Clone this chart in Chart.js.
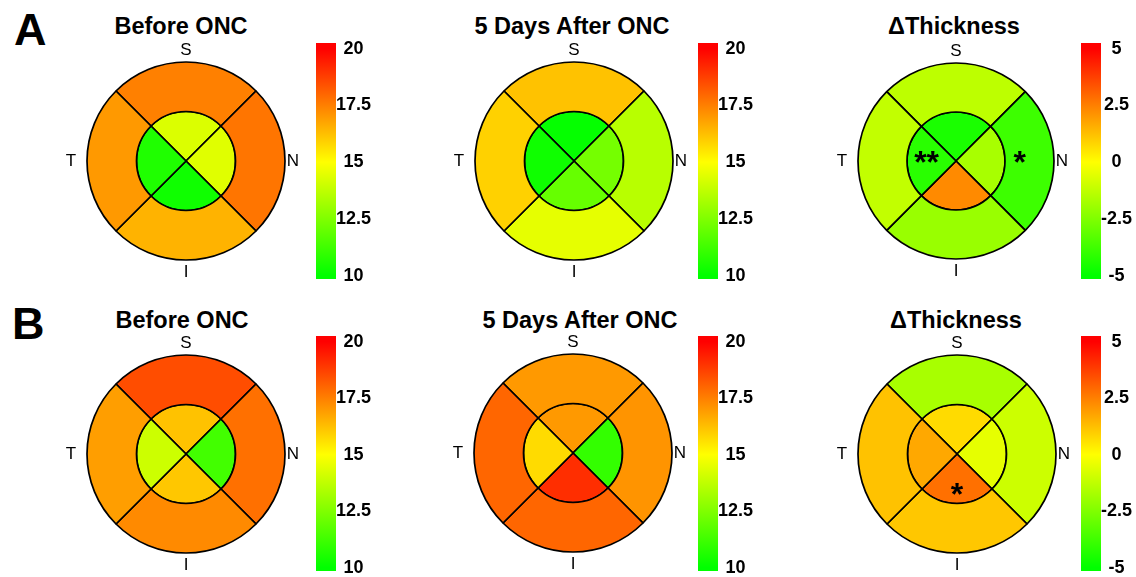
<!DOCTYPE html>
<html>
<head>
<meta charset="utf-8">
<script src="https://cdn.jsdelivr.net/npm/chart.js@4"></script>
<style>
  body { margin: 0; background: #fff; width: 1136px; height: 577px; position: relative; overflow: hidden;
         font-family: "Liberation Sans", Arial, sans-serif; }
  canvas { position: absolute; }
  .title { position: absolute; font-weight: bold; font-size: 23.5px; line-height: 1; white-space: nowrap;
           transform: translateX(-50%); color: #000; }
  .letter { position: absolute; font-weight: bold; font-size: 45px; line-height: 1; color: #000; }
</style>
</head>
<body>
<div class="letter" style="left:14px;top:7px">A</div>
<div class="letter" style="left:12px;top:301px">B</div>

<script>
// sector order going clockwise from the top
const sectors = ['S', 'N', 'I', 'T'];
const sectorSpan = [1, 1, 1, 1];

const thickTicks = [10, 12.5, 15, 17.5, 20];
const thickTickLabels = ['10', '12.5', '15', '17.5', '20'];
const deltaTicks = [-5, -2.5, 0, 2.5, 5];
const deltaTickLabels = ['-5', '-2.5', '0', '2.5', '5'];

// A
const beforeA_outer = [17.5, 17.7, 16.5, 17.0];
const beforeA_inner = [14.3, 14.4, 10.3, 10.6];
const afterA_outer = [16.2, 13.6, 14.5, 15.9];
const afterA_inner = [10.1, 12.3, 12.0, 10.3];
const deltaA_outer = [-1.3, -3.8, -2.0, -1.2];
const deltaA_inner = [-4.5, -1.7, 2.3, -4.2];

// B
const beforeB_outer = [18.5, 17.8, 17.3, 16.9];
const beforeB_inner = [16.2, 11.3, 16.1, 14.0];
const afterB_outer = [17.0, 17.1, 18.0, 18.0];
const afterB_inner = [17.0, 11.0, 19.1, 15.7];
const deltaB_outer = [-1.7, -1.0, 1.1, 1.2];
const deltaB_inner = [0.7, -0.5, 2.8, 1.7];

// significance marks: ring 0 = outer, 1 = inner
const starsA = [{ ring: 1, sector: 'T', text: '**', frac: 0.6 }, { ring: 0, sector: 'N', text: '*', frac: 0.3 }];
const starsB = [{ ring: 1, sector: 'I', text: '*', frac: 0.8 }];

const FONT = '"Liberation Sans", Arial, sans-serif';

function colorFor(v, lo, hi) {
  let t = (v - lo) / (hi - lo);
  t = Math.max(0, Math.min(1, t));
  let r, g;
  if (t < 0.5) { r = Math.round(510 * t); g = 255; }
  else { r = 255; g = Math.round(255 * (2 - 2 * t)); }
  return `rgb(${r},${g},0)`;
}

const panels = [
  { title: 'Before ONC', outer: beforeA_outer, inner: beforeA_inner, ticks: thickTicks, tickLabels: thickTickLabels,
    stars: [], cx: 186, cy: 161, r: 99, tx: 181, ty: 15, cbx: 316, cbTop: 43, cbBottom: 279 },
  { title: '5 Days After ONC', outer: afterA_outer, inner: afterA_inner, ticks: thickTicks, tickLabels: thickTickLabels,
    stars: [], cx: 574, cy: 161, r: 99, tx: 572, ty: 15, cbx: 698, cbTop: 43, cbBottom: 279 },
  { title: '\u0394Thickness', outer: deltaA_outer, inner: deltaA_inner, ticks: deltaTicks, tickLabels: deltaTickLabels,
    stars: starsA, cx: 956, cy: 161, r: 98, tx: 954, ty: 15, cbx: 1081, cbTop: 43, cbBottom: 279 },
  { title: 'Before ONC', outer: beforeB_outer, inner: beforeB_inner, ticks: thickTicks, tickLabels: thickTickLabels,
    stars: [], cx: 186, cy: 454, r: 99, tx: 182, ty: 309, cbx: 316, cbTop: 336, cbBottom: 571 },
  { title: '5 Days After ONC', outer: afterB_outer, inner: afterB_inner, ticks: thickTicks, tickLabels: thickTickLabels,
    stars: [], cx: 573, cy: 453, r: 99, tx: 580, ty: 309, cbx: 698, cbTop: 336, cbBottom: 571 },
  { title: '\u0394Thickness', outer: deltaB_outer, inner: deltaB_inner, ticks: deltaTicks, tickLabels: deltaTickLabels,
    stars: starsB, cx: 957, cy: 454, r: 99, tx: 956, ty: 309, cbx: 1081, cbTop: 336, cbBottom: 571 }
];

// S / N / I / T labels around the grid, plus the asterisks
const gridMarks = {
  id: 'gridMarks',
  afterDraw(chart, args, opts) {
    const ctx = chart.ctx;
    const a = chart.chartArea;
    const cx = (a.left + a.right) / 2, cy = (a.top + a.bottom) / 2;
    const r = opts.r;
    ctx.save();
    ctx.fillStyle = '#000';
    ctx.textAlign = 'center';
    ctx.textBaseline = 'middle';
    ctx.font = `17px ${FONT}`;
    ctx.fillText('S', cx, cy - r - 12);
    ctx.fillText('I', cx, cy + r + 12);
    ctx.fillText('T', cx - r - 16, cy);
    ctx.fillText('N', cx + r + 8, cy);

    ctx.font = `bold 32px ${FONT}`;
    opts.stars.forEach(s => {
      const el = chart.getDatasetMeta(s.ring).data[sectors.indexOf(s.sector)];
      const p = el.getProps(['x', 'y', 'startAngle', 'endAngle', 'innerRadius', 'outerRadius'], true);
      const ang = (p.startAngle + p.endAngle) / 2;
      const rr = p.innerRadius + s.frac * (p.outerRadius - p.innerRadius);
      ctx.fillText(s.text, p.x + Math.cos(ang) * rr, p.y + Math.sin(ang) * rr + 3);
    });
    ctx.restore();
  }
};

panels.forEach(p => {
  const lo = p.ticks[0], hi = p.ticks[p.ticks.length - 1];

  const t = document.createElement('div');
  t.className = 'title';
  t.textContent = p.title;
  t.style.left = p.tx + 'px';
  t.style.top = p.ty + 'px';
  document.body.appendChild(t);

  // grid
  const size = 270;
  const c = document.createElement('canvas');
  c.width = size; c.height = size;
  c.style.left = (p.cx - size / 2) + 'px';
  c.style.top = (p.cy - size / 2) + 'px';
  document.body.appendChild(c);

  new Chart(c, {
    type: 'doughnut',
    data: {
      labels: sectors,
      datasets: [
        { data: sectorSpan, backgroundColor: p.outer.map(v => colorFor(v, lo, hi)) },
        { data: sectorSpan, backgroundColor: p.inner.map(v => colorFor(v, lo, hi)) }
      ]
    },
    options: {
      responsive: false,
      animation: false,
      events: [],
      rotation: -45,
      cutout: 0,
      radius: p.r,
      layout: { padding: 0 },
      elements: { arc: { borderColor: '#000', borderWidth: 1.7, hoverOffset: 0, offset: 0, spacing: 0 } },
      plugins: {
        legend: { display: false },
        tooltip: { enabled: false },
        gridMarks: { r: p.r, stars: p.stars }
      }
    },
    plugins: [gridMarks]
  });

  // colour bar
  const span = hi - lo;
  const yMin = lo - 0.015 * span, yMax = hi + 0.025 * span;
  const pad = 12, axisW = 44, barW = 20;
  const cb = document.createElement('canvas');
  cb.width = barW + axisW;
  cb.height = (p.cbBottom - p.cbTop) + pad * 2;
  cb.style.left = p.cbx + 'px';
  cb.style.top = (p.cbTop - pad) + 'px';
  document.body.appendChild(cb);

  new Chart(cb, {
    type: 'bar',
    data: {
      labels: [''],
      datasets: [{
        data: [[yMin, yMax]],
        borderWidth: 0,
        borderSkipped: false,
        categoryPercentage: 1,
        barPercentage: 1,
        backgroundColor: ctx => {
          const ch = ctx.chart;
          if (!ch.chartArea) return 'rgb(255,255,0)';
          const y = ch.scales.y;
          const g = ch.ctx.createLinearGradient(0, y.getPixelForValue(lo), 0, y.getPixelForValue(hi));
          g.addColorStop(0, 'rgb(0,255,0)');
          g.addColorStop(0.5, 'rgb(255,255,0)');
          g.addColorStop(1, 'rgb(255,0,0)');
          return g;
        }
      }]
    },
    options: {
      responsive: false,
      animation: false,
      events: [],
      layout: { padding: { top: pad, bottom: pad, left: 0, right: 0 } },
      plugins: { legend: { display: false }, tooltip: { enabled: false } },
      scales: {
        x: { display: false },
        y: {
          position: 'right',
          min: yMin,
          max: yMax,
          grid: { display: false, drawTicks: false },
          border: { display: false },
          afterBuildTicks: axis => { axis.ticks = p.ticks.map(v => ({ value: v })); },
          afterFit: axis => { axis.width = axisW; },
          ticks: {
            autoSkip: false,
            padding: 0,
            crossAlign: 'center',
            color: '#000',
            font: { family: FONT, size: 18, weight: 'bold' },
            callback: (v, i) => p.tickLabels[i]
          }
        }
      }
    }
  });
});
</script>
</body>
</html>
